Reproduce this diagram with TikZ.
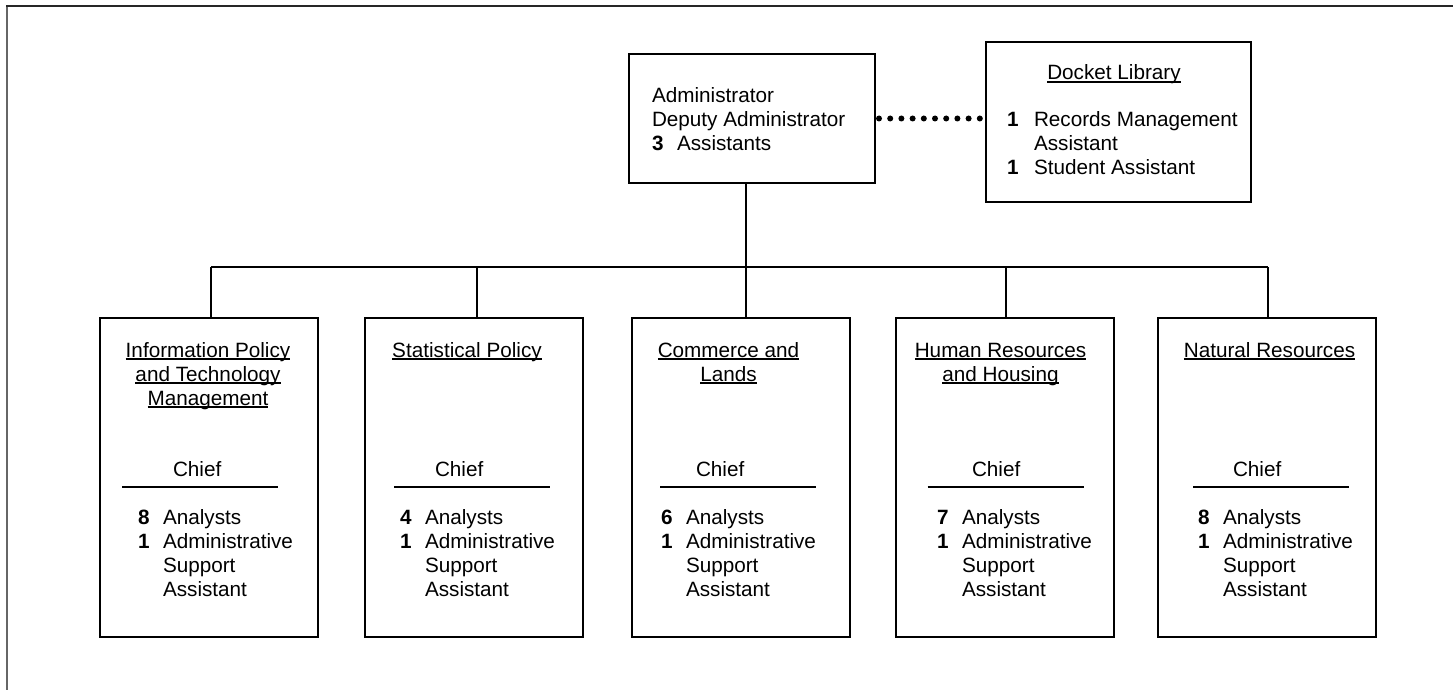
\documentclass[tikz,border=0pt]{standalone}
\usepackage{fontspec}
\setmainfont{Liberation Sans}
\usetikzlibrary{calc}

% body text size used throughout the chart
\newcommand\chartfont{\fontsize{20.7}{24}\selectfont}
% underline sitting just under the baseline (crosses descenders)
\newcommand\ulin[1]{\setbox0\hbox{#1}\rlap{\rule[-2.6pt]{\wd0}{1.3pt}}\box0}

% one branch box: #1 name, #2 left x, #3 title centre x, #4 title lines,
% #5 item column x, #6 number of analysts, #7 left end of the rule
\newcommand\orgunit[7]{%
  \node[boxframe, minimum width=217.5pt, minimum height=319pt, anchor=north west] (#1) at (#2,318) {};
  \foreach \titleline [count=\k] in {#4} {
    \node[label] (#1-t\k) at (#3, 333+24*\k) {\ulin{\titleline}};
  }
  \node[leftlabel] (#1-chief) at (#5+10, 476) {Chief};
  \draw[chiefrule] (#7,487) coordinate (#1-ra) -- ++(156,0) coordinate (#1-rb);
  \node[leftlabel] (#1-n1) at (#5-25, 524) {\bfseries #6};
  \node[leftlabel] (#1-i1) at (#5, 524) {Analysts};
  \node[leftlabel] (#1-n2) at (#5-25, 548) {\bfseries 1};
  \node[leftlabel] (#1-i2) at (#5, 548) {Administrative};
  \node[leftlabel] (#1-i3) at (#5, 572) {Support};
  \node[leftlabel] (#1-i4) at (#5, 596) {Assistant};
}

\begin{document}
\begin{tikzpicture}[x=1pt, y=-1pt,
  every node/.style={inner sep=0pt, outer sep=0pt, font=\chartfont},
  boxframe/.style={draw, line width=2pt, rectangle},
  link/.style={line width=1.7pt},
  chiefrule/.style={line width=1.8pt},
  dotlink/.style={line width=6pt, line cap=round, dash pattern=on 0pt off 11.2pt},
  label/.style={anchor=base},
  leftlabel/.style={anchor=base west},
]
\useasboundingbox (0,0) rectangle (1453,690);

% page frame (open to the right and bottom)
\draw[line width=2.2pt, black!60] (7,690) -- (7,6);
\draw[line width=2.2pt, black!85] (6,6) -- (1453,6);

% administrator
\node[boxframe, minimum width=246pt, minimum height=129pt, anchor=north west] (admin) at (629,54) {};
\node[leftlabel] (adm1) at (652,103) {Administrator};
\node[leftlabel] (adm2) at (652,126.5) {Deputy Administrator};
\node[leftlabel] (adm3n) at (652,150) {\bfseries 3};
\node[leftlabel] (adm3) at (677,150) {Assistants};

% docket library
\node[boxframe, minimum width=265pt, minimum height=160pt, anchor=north west] (docket) at (986,42) {};
\node[label] (dk0) at (1114,80) {\ulin{Docket Library}};
\node[leftlabel] (dk1n) at (1007,127) {\bfseries 1};
\node[leftlabel] (dk1) at (1034,127) {Records Management};
\node[leftlabel] (dk2) at (1034,150) {Assistant};
\node[leftlabel] (dk3n) at (1007,174) {\bfseries 1};
\node[leftlabel] (dk3) at (1034,174) {Student Assistant};

\draw[dotlink] ([xshift=4pt]admin.east) -- ([xshift=-3pt]admin.east -| docket.west);

% branches
\orgunit{u1}{100}{208}{Information Policy,and Technology,Management}{163}{8}{122}
\orgunit{u2}{365}{467}{Statistical Policy}{425}{4}{394}
\orgunit{u3}{632}{728.5}{Commerce and,Lands}{686}{6}{660}
\orgunit{u4}{896}{1000.5}{Human Resources,and Housing}{962}{7}{927.5}
\orgunit{u5}{1158}{1269.5}{Natural Resources}{1223}{8}{1193}

% reporting lines
\coordinate (bus) at (746,267);
\draw[link] (admin.south -| bus) -- (bus);
\draw[link] ([xshift=2.5pt]u1.north |- bus) -- ([xshift=1pt]u5.north |- bus);
\draw[link] ([xshift=2.5pt]u1.north |- bus) -- ([xshift=2.5pt]u1.north);
\draw[link] ([xshift=3pt]u2.north |- bus) -- ([xshift=3pt]u2.north);
\draw[link] ([xshift=5pt]u3.north |- bus) -- ([xshift=5pt]u3.north);
\draw[link] ([xshift=1.5pt]u4.north |- bus) -- ([xshift=1.5pt]u4.north);
\draw[link] ([xshift=1pt]u5.north |- bus) -- ([xshift=1pt]u5.north);
\end{tikzpicture}
\end{document}
